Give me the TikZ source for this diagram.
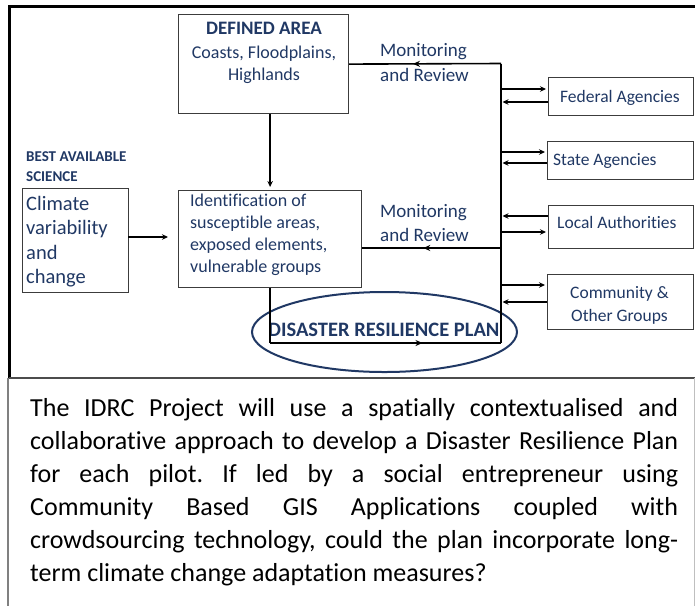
\documentclass[tikz,border=0pt]{standalone}
\usepackage{fontspec}
\setmainfont[Ligatures=NoCommon]{Carlito}
\usetikzlibrary{arrows.meta,decorations.markings,shapes.geometric}
\definecolor{navy}{RGB}{32,56,100}
\definecolor{boxgray}{RGB}{60,60,60}
\begin{document}
\begin{tikzpicture}[x=1pt,y=-1pt,
  box/.style={draw=boxgray, line width=1.2pt, inner sep=0pt, anchor=north west},
  txt/.style={inner sep=0pt, anchor=base west, text=navy},
  arr/.style={line width=1.8pt, -{Stealth[length=6pt,width=5.5pt]}},
  fb/.style={line width=1.6pt},
  midarr/.style={postaction={decorate}, decoration={markings, mark=at position #1 with {\arrow{Stealth[length=7pt,width=6pt]}}}}
]
\useasboundingbox (0,0) rectangle (695,606);
% frames
\draw[line width=3pt] (695,6) -- (9,6) -- (9,378);
\draw[line width=2pt, color=black!70] (9,378) -- (695,378);
\draw[line width=2pt, color=black!50] (7.5,378) -- (7.5,606);
\draw[line width=1pt, color=black!25] (694,378) -- (694,606);

% boxes
\node[box, minimum width=170pt, minimum height=99pt] (da) at (178,14) {};
\node[box, minimum width=183pt, minimum height=97pt] (ident) at (178,190) {};
\node[box, minimum width=106pt, minimum height=104pt] (clim) at (22,188) {};
\node[box, minimum width=145pt, minimum height=38pt] (fed) at (548,77) {};
\node[box, minimum width=146pt, minimum height=38pt] (state) at (547,141) {};
\node[box, minimum width=145pt, minimum height=43pt] (local) at (548,205) {};
\node[box, minimum width=146pt, minimum height=55pt] (comm) at (547,274) {};

% ellipse
\node[draw=navy, line width=2pt, ellipse, minimum width=265pt, minimum height=80pt, inner sep=0pt] (drp) at (384.5,332) {};

% texts
\node[txt, anchor=base] (dat) at (264,34) {\parbox[t]{168pt}{\centering{\fontsize{19}{24}\selectfont\bfseries DEFINED AREA\par}\vspace{2pt}\fontsize{18}{22}\selectfont Coasts, Floodplains,\\Highlands}};
\node[txt] (bas) at (26,161.7) {\parbox[t]{150pt}{\fontsize{15}{20}\selectfont\bfseries BEST AVAILABLE\\SCIENCE}};
\node[txt] (climt) at (26,210) {\parbox[t]{100pt}{\fontsize{20.5}{24.6}\selectfont Climate\\variability\\and\\change}};
\node[txt] (identt) at (190,206.7) {\parbox[t]{170pt}{\fontsize{18}{22}\selectfont Identification of\\susceptible areas,\\exposed elements,\\vulnerable groups}};
\node[txt] (mr1) at (380,56.7) {\parbox[t]{110pt}{\fontsize{19}{24.3}\selectfont Monitoring\\and Review}};
\node[txt] (mr2) at (380,217.7) {\parbox[t]{110pt}{\fontsize{19}{24}\selectfont Monitoring\\and Review}};
\node[txt] (fedt) at (560,102.3) {\fontsize{17.5}{21}\selectfont Federal Agencies};
\node[txt] (statet) at (553,165) {\fontsize{17.5}{21}\selectfont State Agencies};
\node[txt] (localt) at (557,228.3) {\fontsize{17.5}{21}\selectfont Local Authorities};
\node[txt, anchor=base] (commt) at (619.5,298.3) {\parbox[t]{140pt}{\centering\fontsize{17.5}{23.4}\selectfont Community \&\\Other Groups}};
\node[txt] (drpt) at (268,336.7) {\fontsize{20.5}{24}\selectfont\bfseries DISASTER RESILIENCE PLAN};

% bus and feedback lines
\coordinate (bt) at (501,63.5);
\coordinate (bb) at (501,343);
\draw[line width=2.5pt] (bt) -- (bb);
\draw[fb, midarr=0.58] (bt) -- (da.east);
\coordinate (b2) at (501,248);
\draw[fb, midarr=0.56] (b2) -- (b2 -| ident.east);
\coordinate (c1) at (ident.south |- bb);
\draw[fb] (ident.south) -- (c1);
\draw[fb, midarr=0.66] (c1) -- (bb);

% main arrows
\draw[arr, shorten >=3pt] (ident.north |- da.south) -- (ident.north);
\coordinate (ca) at (128,237);
\draw[arr, line width=1.3pt, shorten >=10pt] (ca) -- (ca -| ident.west);

% agency arrows
\coordinate (f1) at (501,89);  \coordinate (f2) at (501,102);
\coordinate (s1) at (501,152); \coordinate (s2) at (501,163);
\coordinate (l1) at (501,216); \coordinate (l2) at (501,232);
\coordinate (m1) at (501,285); \coordinate (m2) at (501,302);
\draw[arr, shorten >=2pt] (f1) -- (f1 -| fed.west);
\draw[arr, shorten >=1.5pt] (f2 -| fed.west) -- (f2);
\draw[arr, shorten >=2pt] (s1) -- (s1 -| state.west);
\draw[arr, shorten >=1.5pt] (s2 -| state.west) -- (s2);
\draw[arr, shorten >=1.5pt] (l1 -| local.west) -- (l1);
\draw[arr, shorten >=2pt] (l2) -- (l2 -| local.west);
\draw[arr, shorten >=2pt] (m1) -- (m1 -| comm.west);
\draw[arr, shorten >=1.5pt] (m2 -| comm.west) -- (m2);

% paragraph
\node[inner sep=0pt, anchor=base west] (para) at (30,416) {\parbox[t]{648pt}{\fontsize{26}{33}\selectfont\frenchspacing\hyphenpenalty=10000 The IDRC Project will use a spatially contextualised and\linebreak collaborative approach to develop a Disaster Resilience Plan\linebreak for each pilot. If led by a social entrepreneur using\linebreak Community Based GIS Applications coupled with\linebreak crowdsourcing technology, could the plan incorporate long-\linebreak term climate change adaptation measures?}};
\end{tikzpicture}
\end{document}
